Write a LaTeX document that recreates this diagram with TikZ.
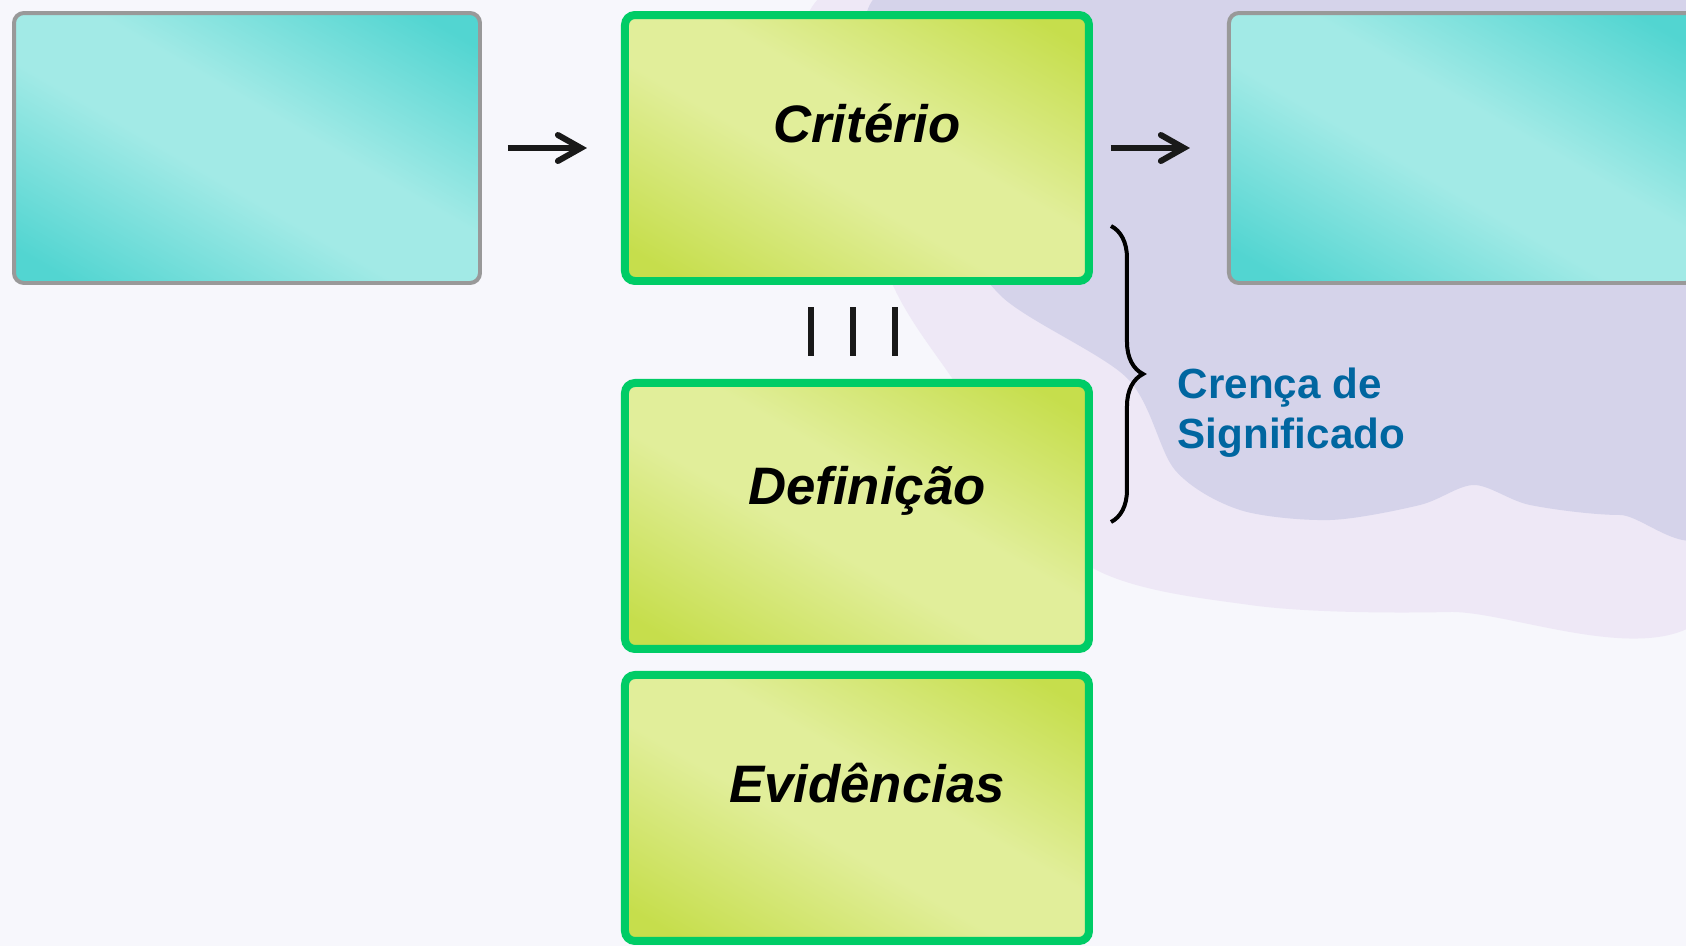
\documentclass[tikz,border=0pt]{standalone}
\usepackage{fontspec}
\setmainfont{Liberation Sans}
\usepackage{tikz}
\usetikzlibrary{arrows.meta,positioning,calc,decorations.pathreplacing}
\definecolor{pageBg}{HTML}{F7F7FC}
\definecolor{blobDark}{HTML}{D5D3EA}
\definecolor{blobHalo}{HTML}{EEE8F6}
\definecolor{cyanDark}{HTML}{52D5D1}
\definecolor{cyanLight}{HTML}{A2EAE6}
\definecolor{limeDark}{HTML}{C6DE4C}
\definecolor{limeLight}{HTML}{E1EE9A}
\definecolor{boxGreen}{HTML}{00CC66}
\definecolor{textBlue}{HTML}{0066A0}
\pgfdeclareverticalshading{cyanfade}{100bp}{color(0bp)=(cyanDark); color(20bp)=(cyanDark); color(44bp)=(cyanLight); color(56bp)=(cyanLight); color(80bp)=(cyanDark); color(100bp)=(cyanDark)}
\pgfdeclareverticalshading{limefade}{100bp}{color(0bp)=(limeDark); color(20bp)=(limeDark); color(44bp)=(limeLight); color(56bp)=(limeLight); color(80bp)=(limeDark); color(100bp)=(limeDark)}

\begin{document}
\begin{tikzpicture}[x=0.1mm, y=-0.1mm, >={Straight Barb[length=2.3mm,width=2.6mm,line cap=round]}]
\tikzstyle{cyanbox}=[rectangle, rounded corners=1mm, draw=black!40, line width=0.4mm, minimum width=46.6mm, minimum height=27mm, shading=cyanfade, shading angle=-30]
\tikzstyle{limebox}=[rectangle, rounded corners=1mm, draw=boxGreen, line width=0.8mm, minimum width=46.4mm, minimum height=26.6mm, shading=limefade, shading angle=-30]
\tikzstyle{boxtext}=[font=\fontsize{15}{18}\selectfont\bfseries\itshape, xshift=1mm, yshift=2.5mm]
\tikzstyle{edge}=[->, line width=0.6mm, black!90]
\tikzstyle{bar}=[line width=0.6mm, black!90]
\tikzstyle{meaning}=[font=\fontsize{12}{14.2}\selectfont\bfseries, text=textBlue, align=left, inner sep=0pt]
% background
\path[use as bounding box, fill=pageBg] (0,0) rectangle (1686,946);
\clip (0,0) rectangle (1686,946);
\fill[blobHalo] plot[smooth cycle] coordinates {(850,-20) (880,250) (960,390) (1080,560) (1250,605) (1450,612) (1720,595) (1720,-20)};
\fill[blobDark] plot[smooth cycle] coordinates {(905,-20) (950,200) (1000,295) (1127,378) (1175,470) (1240,510) (1330,520) (1420,505) (1474,485) (1530,505) (1620,515) (1720,505) (1720,-20)};
% boxes
\node[cyanbox] (src) at (247,148) {};
\node[limebox, right=13.9mm of src, label={[boxtext]center:Critério}] (crit) {};
\node[cyanbox, right=13.4mm of crit] (dst) {};
\node[limebox, below=9.4mm of crit, label={[boxtext]center:Definição}] (def) {};
\node[limebox, below=1.8mm of def, label={[boxtext]center:Evidências}] (evid) {};
% arrows
\draw[edge, shorten <=2.6mm, shorten >=3.4mm] (src) -- (crit);
\draw[edge, shorten <=1.8mm, shorten >=3.7mm] (crit) -- (dst);
% equivalence bars
\foreach \dx in {-46,-4,38}
  \draw[bar] ($(crit.south)+(\dx,22)$) -- ++(0,49);
% brace
\draw[line width=0.4mm, decorate, decoration={brace, amplitude=3.2mm}] ($(crit.east)+(18,78)$) -- ($(def.east)+(18,6)$);
\node[meaning, anchor=north west] (belief) at ($(crit.east)+(84,219)$) {Crença de\\Significado};
\end{tikzpicture}
\end{document}
